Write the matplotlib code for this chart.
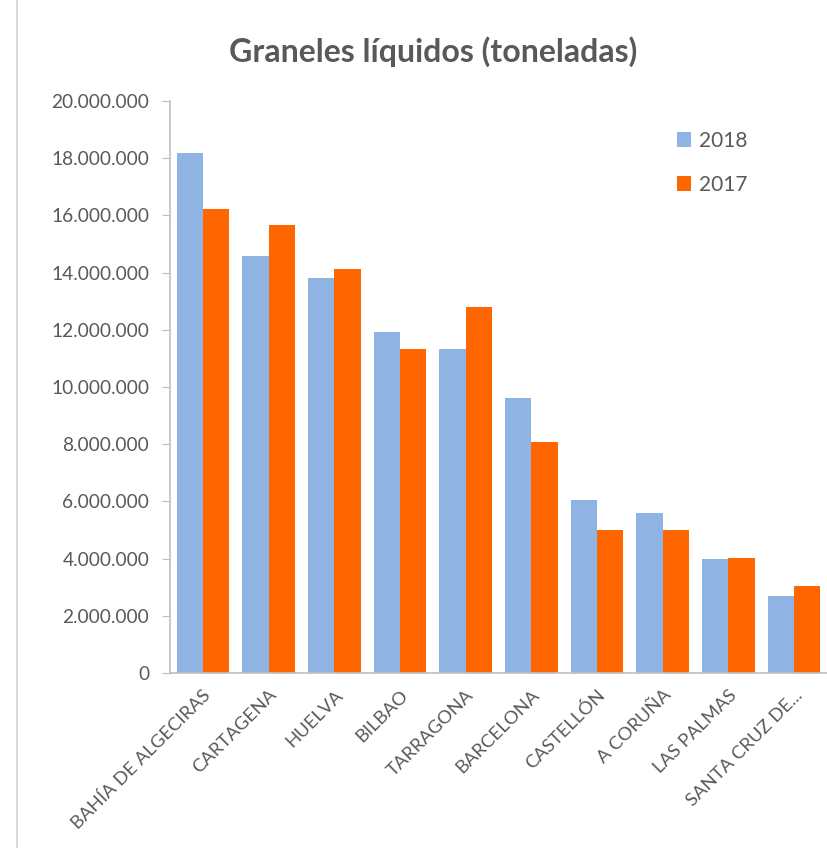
import matplotlib.pyplot as plt
from matplotlib.lines import Line2D
from matplotlib.ticker import FuncFormatter
import numpy as np

# --- data ---
ports = ["BAHÍA DE ALGECIRAS", "CARTAGENA", "HUELVA", "BILBAO", "TARRAGONA",
         "BARCELONA", "CASTELLÓN", "A CORUÑA", "LAS PALMAS", "SANTA CRUZ DE..."]
vals_2018 = [18180000, 14580000, 13810000, 11920000, 11330000,
             9620000, 6040000, 5580000, 3990000, 2690000]
vals_2017 = [16220000, 15660000, 14130000, 11330000, 12800000,
             8070000, 4990000, 4990000, 4030000, 3040000]
yticks = [0, 2000000, 4000000, 6000000, 8000000, 10000000,
          12000000, 14000000, 16000000, 18000000, 20000000]

plt.rcParams['font.family'] = ['Lato', 'DejaVu Sans']
txt = '#595959'
axis_col = '#BFBFBF'

fig = plt.figure(figsize=(8.27, 8.48), dpi=100)
ax = fig.add_axes([170 / 827, 1 - 673 / 848, 657 / 827, 572 / 848])

x = np.arange(len(ports))
w = 0.4
ax.bar(x - w / 2, vals_2018, w, color='#8FB4E3', label='2018')
ax.bar(x + w / 2, vals_2017, w, color='#FF6600', label='2017')

ax.set_xlim(-0.5, len(ports) - 0.5)
ax.set_ylim(0, 20000000)
ax.set_yticks(yticks)
ax.yaxis.set_major_formatter(FuncFormatter(lambda v, p: f"{int(v):,}".replace(",", ".")))
ax.set_xticks(x)
ax.set_xticklabels(ports, rotation=45, ha='right', rotation_mode='anchor')

for s in ['top', 'right']:
    ax.spines[s].set_visible(False)
for s in ['left', 'bottom']:
    ax.spines[s].set_color(axis_col)
    ax.spines[s].set_linewidth(1.2)
ax.tick_params(axis='y', length=6, color=axis_col, labelcolor=txt, labelsize=13.8, pad=9)
ax.tick_params(axis='x', length=0, labelcolor=txt, labelsize=13.3, pad=10)

fig.text(433 / 827, 1 - 52 / 848, "Graneles líquidos (toneladas)", ha='center', va='center',
         fontsize=23, fontweight='bold', color=txt)

fig.legend(loc='upper left', bbox_to_anchor=(658 / 827, 1 - 112 / 848), frameon=False,
           handlelength=0.7, handleheight=0.7, handletextpad=0.35, labelspacing=1.15,
           fontsize=15, labelcolor=txt)

# left chart border
fig.add_artist(Line2D([17 / 827, 17 / 827], [0, 1], color='#D9D9D9', linewidth=1.5))

fig.savefig('out.png', dpi=100)
